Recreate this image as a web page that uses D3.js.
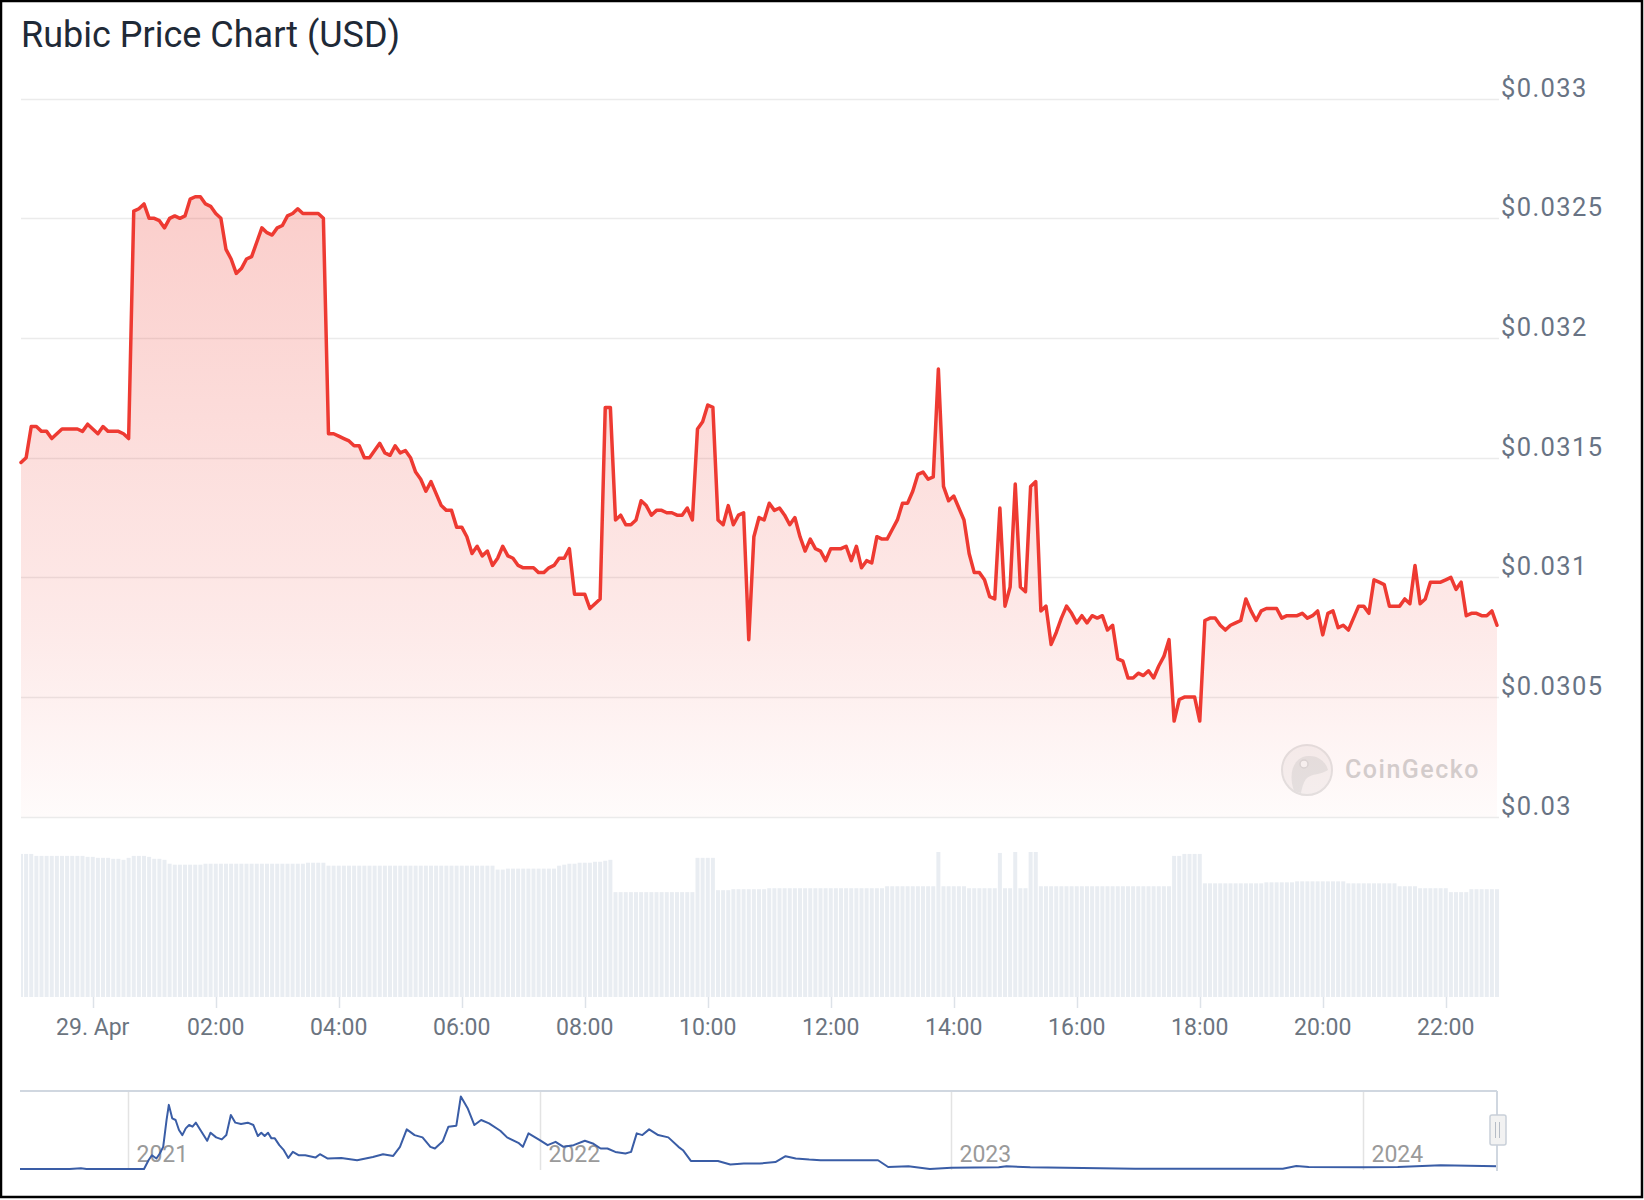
<!DOCTYPE html>
<html><head><meta charset="utf-8">
<script src="https://cdn.jsdelivr.net/npm/d3@7"></script>
<style>
html,body{margin:0;padding:0;background:#fff;}
svg{display:block;font-family:Roboto,"Noto Sans",sans-serif;}
</style></head><body>
<svg id="chart" width="1644" height="1200"></svg>
<script>
const chartTitle = "Rubic Price Chart (USD)";
const startTime = "2024-04-28T22:50:00Z";
const stepMinutes = 5;

const prices = [
0.03148,0.03150,0.03163,0.03163,0.03161,0.03161,0.03158,0.03160,0.03162,0.03162,
0.03162,0.03162,0.03161,0.03164,0.03162,0.03160,0.03163,0.03161,0.03161,0.03161,
0.03160,0.03158,0.03253,0.03254,0.03256,0.03250,0.03250,0.03249,0.03246,0.03250,
0.03251,0.03250,0.03251,0.03258,0.03259,0.03259,0.03256,0.03255,0.03252,0.03250,
0.03237,0.03233,0.03227,0.03229,0.03233,0.03234,0.03240,0.03246,0.03244,0.03243,
0.03246,0.03247,0.03251,0.03252,0.03254,0.03252,0.03252,0.03252,0.03252,0.03250,
0.03160,0.03160,0.03159,0.03158,0.03157,0.03155,0.03155,0.03150,0.03150,0.03153,
0.03156,0.03152,0.03151,0.03155,0.03152,0.03153,0.03150,0.03144,0.03141,0.03136,
0.03140,0.03135,0.03130,0.03128,0.03128,0.03121,0.03121,0.03117,0.03110,0.03113,
0.03109,0.03111,0.03105,0.03108,0.03113,0.03109,0.03108,0.03105,0.03104,0.03104,
0.03104,0.03102,0.03102,0.03104,0.03105,0.03108,0.03108,0.03112,0.03093,0.03093,
0.03093,0.03087,0.03089,0.03091,0.03171,0.03171,0.03124,0.03126,0.03122,0.03122,
0.03124,0.03132,0.03130,0.03126,0.03128,0.03128,0.03127,0.03127,0.03126,0.03126,
0.03129,0.03124,0.03162,0.03165,0.03172,0.03171,0.03124,0.03122,0.03130,0.03122,
0.03126,0.03127,0.03074,0.03117,0.03125,0.03124,0.03131,0.03128,0.03129,0.03126,
0.03122,0.03125,0.03117,0.03111,0.03116,0.03112,0.03111,0.03107,0.03112,0.03112,
0.03112,0.03113,0.03107,0.03113,0.03104,0.03107,0.03106,0.03117,0.03116,0.03116,
0.03120,0.03124,0.03131,0.03131,0.03136,0.03143,0.03144,0.03141,0.03142,0.03187,
0.03138,0.03132,0.03134,0.03129,0.03124,0.03110,0.03102,0.03102,0.03099,0.03092,
0.03091,0.03129,0.03088,0.03096,0.03139,0.03096,0.03094,0.03138,0.03140,0.03086,
0.03088,0.03072,0.03077,0.03083,0.03088,0.03085,0.03081,0.03084,0.03081,0.03084,
0.03083,0.03084,0.03078,0.03080,0.03066,0.03065,0.03058,0.03058,0.03060,0.03059,
0.03061,0.03058,0.03063,0.03067,0.03074,0.03040,0.03049,0.03050,0.03050,0.03050,
0.03040,0.03082,0.03083,0.03083,0.03080,0.03078,0.03080,0.03081,0.03082,0.03091,
0.03086,0.03082,0.03086,0.03087,0.03087,0.03087,0.03083,0.03084,0.03084,0.03084,
0.03085,0.03083,0.03084,0.03086,0.03076,0.03085,0.03086,0.03079,0.03080,0.03078,
0.03083,0.03088,0.03088,0.03085,0.03099,0.03098,0.03097,0.03088,0.03088,0.03088,
0.03091,0.03089,0.03105,0.03089,0.03091,0.03098,0.03098,0.03098,0.03099,0.03100,
0.03095,0.03098,0.03084,0.03085,0.03085,0.03084,0.03084,0.03086,0.03080
];

// 24h volume (thousand USD), one bar per price point
const volumes = [
146,146,146,144,144,144,144,144,144,144,
144,144,144,143,143,142,142,142,141,141,
140,142,144,144,144,143,141,141,140,136,
135,135,135,135,135,135,136,136,136,136,
136,136,136,136,136,136,136,136,136,136,
136,136,136,136,136,136,137,137,137,137,
134,134,134,134,134,134,134,134,134,134,
134,134,134,134,134,134,134,134,134,134,
134,134,134,134,134,134,134,134,134,134,
134,134,134,130,130,131,131,131,131,131,
131,131,131,131,131,134,135,136,136,137,
137,137,138,138,139,140,107,107,107,107,
107,107,107,107,107,107,107,107,107,107,
107,107,142,142,142,142,109,109,109,110,
110,110,110,110,110,110,111,111,111,111,
111,111,111,111,111,111,111,111,111,111,
111,111,111,111,111,111,111,111,111,113,
113,113,113,113,113,113,113,113,113,148,
113,113,113,113,113,111,111,111,111,111,
111,147,111,111,148,111,111,148,148,113,
113,113,113,113,113,113,113,113,113,113,
113,113,113,113,113,113,113,113,113,113,
113,113,113,113,113,144,144,146,146,146,
146,116,116,116,116,116,116,116,116,116,
116,116,116,117,117,117,117,117,117,118,
118,118,118,118,118,118,118,118,118,116,
116,116,116,116,116,116,116,116,116,113,
113,113,113,111,111,111,111,111,111,107,
107,107,107,110,110,110,110,110,110
];

const yTickValues = [0.030, 0.0305, 0.031, 0.0315, 0.032, 0.0325, 0.033];
const yTickLabels = ["$0.03", "$0.0305", "$0.031", "$0.0315", "$0.032", "$0.0325", "$0.033"];

const navDates = [
"2020-09-27","2020-11-10","2020-11-20","2020-11-25","2021-01-15","2021-01-19","2021-01-22","2021-01-26","2021-01-29","2021-02-01",
"2021-02-04","2021-02-06","2021-02-09","2021-02-12","2021-02-15","2021-02-18","2021-02-21","2021-02-24","2021-02-27","2021-03-02",
"2021-03-06","2021-03-12","2021-03-15","2021-03-20","2021-03-25","2021-03-29","2021-04-02","2021-04-06","2021-04-11","2021-04-17",
"2021-04-22","2021-04-26","2021-04-29","2021-05-02","2021-05-05","2021-05-08","2021-05-11","2021-05-15","2021-05-19","2021-05-23",
"2021-05-27","2021-06-01","2021-06-07","2021-06-16","2021-06-20","2021-06-27","2021-07-09","2021-07-23","2021-08-06","2021-08-15",
"2021-08-24","2021-08-30","2021-09-05","2021-09-12","2021-09-19","2021-09-26","2021-09-30","2021-10-07","2021-10-12","2021-10-19",
"2021-10-23","2021-10-29","2021-11-04","2021-11-10","2021-11-17","2021-11-27","2021-12-03","2021-12-13","2021-12-17","2021-12-22",
"2022-01-01","2022-01-08","2022-01-15","2022-01-22","2022-01-31","2022-02-10","2022-02-17","2022-02-24","2022-03-02","2022-03-09",
"2022-03-18","2022-03-23","2022-03-28","2022-04-02","2022-04-08","2022-04-16","2022-04-25","2022-05-04","2022-05-08","2022-05-15",
"2022-06-08","2022-06-19","2022-07-01","2022-07-15","2022-07-29","2022-08-07","2022-08-16","2022-08-28","2022-09-07","2022-09-30",
"2022-10-28","2022-11-06","2022-11-24","2022-12-13","2023-01-01","2023-02-12","2023-02-19","2023-03-12","2023-06-13","2023-10-22",
"2023-11-03","2023-11-14","2023-12-31","2024-02-01","2024-03-10","2024-04-29"
];
const navPrices = [
0.005,0.005,0.017,0.005,0.005,0.149,0.232,0.177,0.26,0.37,
0.815,1.062,0.84,0.813,0.647,0.564,0.675,0.73,0.702,0.769,
0.647,0.47,0.603,0.526,0.493,0.564,0.896,0.769,0.747,0.769,
0.73,0.548,0.603,0.548,0.603,0.51,0.51,0.398,0.315,0.188,
0.287,0.232,0.232,0.193,0.249,0.177,0.187,0.149,0.204,0.249,
0.221,0.37,0.658,0.564,0.526,0.37,0.343,0.464,0.702,0.719,
1.2,1.007,0.73,0.813,0.758,0.636,0.526,0.437,0.37,0.592,
0.481,0.398,0.453,0.37,0.398,0.47,0.426,0.343,0.343,0.287,
0.26,0.287,0.592,0.564,0.658,0.564,0.526,0.37,0.315,0.138,
0.138,0.078,0.094,0.094,0.12,0.216,0.177,0.16,0.15,0.149,
0.149,0.038,0.05,0.005,0.027,0.033,0.05,0.033,0.01,0.01,
0.055,0.038,0.033,0.038,0.066,0.05
];
const navYearTicks = ["2021-01-01", "2022-01-01", "2023-01-01", "2024-01-01"];
const navYearLabels = ["2021", "2022", "2023", "2024"];

// ---------- drawing ----------
const svg = d3.select("#chart");
const W = 1644, H = 1200;
const plotL = 21, plotR = 1499, dataR = 1497;
const priceTop = 98.6, priceBottom = 816.8;
const volBottom = 997, volTop = 850;

svg.append("rect").attr("x", 0).attr("y", 0).attr("width", W).attr("height", H).attr("fill", "#fff");

const t0 = new Date(startTime);
const times = prices.map((_, i) => d3.utcMinute.offset(t0, i * stepMinutes));
const data = prices.map((p, i) => ({ t: times[i], p, v: volumes[i] }));

const x = d3.scaleUtc().domain([times[0], times[times.length - 1]]).range([plotL, dataR]);
const y = d3.scaleLinear().domain([0.030, 0.033]).range([priceBottom, priceTop]);
const yv = d3.scaleLinear().domain([0, 150]).range([volBottom, volTop]);

// title
svg.append("text").attr("x", 21).attr("y", 47)
  .attr("font-size", 36).attr("fill", "#1f2a37").text(chartTitle);

// gridlines + y labels
const yg = svg.append("g");
yTickValues.forEach((v, i) => {
  yg.append("line").attr("x1", plotL).attr("x2", plotR)
    .attr("y1", Math.round(y(v)) + 0.5).attr("y2", Math.round(y(v)) + 0.5)
    .attr("stroke", "#ebebeb").attr("stroke-width", 1.5);
  yg.append("text").attr("x", 1501).attr("y", y(v) - 2)
    .attr("font-size", 25.5).attr("fill", "#687384").attr("letter-spacing", 1.4)
    .text(yTickLabels[i]);
});

// defs
const defs = svg.append("defs");
const grad = defs.append("linearGradient").attr("id", "areaGrad")
  .attr("gradientUnits", "userSpaceOnUse").attr("x1", 0).attr("x2", 0)
  .attr("y1", y(d3.max(prices))).attr("y2", priceBottom);
grad.append("stop").attr("offset", 0).attr("stop-color", "#ef4136").attr("stop-opacity", 0.26);
grad.append("stop").attr("offset", 0.7).attr("stop-color", "#ef4136").attr("stop-opacity", 0.11);
grad.append("stop").attr("offset", 1).attr("stop-color", "#ef4136").attr("stop-opacity", 0.02);
defs.append("clipPath").attr("id", "plotClip").append("rect")
  .attr("x", plotL).attr("y", 0).attr("width", plotR - plotL).attr("height", H);

// CoinGecko watermark
const wm = svg.append("g").attr("transform", "translate(1307,770)");
wm.append("circle").attr("r", 25).attr("fill", "#f5f3f3").attr("stroke", "#e3e3e3").attr("stroke-width", 2);
wm.append("path").attr("d", "M -13 21 C -19 4 -14 -13 1 -14 C 11 -15 19 -8 21 0 C 14 5 5 3 -1 9 C -4 13 -5 18 -6 23 Z")
  .attr("fill", "#e4e4e4");
wm.append("circle").attr("cx", -3).attr("cy", -6).attr("r", 4).attr("fill", "#f7f7f7").attr("stroke", "#d8d8d8").attr("stroke-width", 1.5);
svg.append("text").attr("x", 1345).attr("y", 778).attr("font-size", 25).attr("letter-spacing", 1.5)
  .attr("fill", "#d2d2d2").attr("font-weight", 500).text("CoinGecko");

// area + line
const area = d3.area().x(d => x(d.t)).y0(y(0.030)).y1(d => y(d.p));
const line = d3.line().x(d => x(d.t)).y(d => y(d.p));
svg.append("path").datum(data).attr("d", area).attr("fill", "url(#areaGrad)");
svg.append("path").datum(data).attr("d", line).attr("fill", "none")
  .attr("stroke", "#ee3a32").attr("stroke-width", 3.5).attr("stroke-linejoin", "round").attr("stroke-linecap", "round");

// volume bars
svg.append("g").attr("clip-path", "url(#plotClip)").selectAll("rect").data(data).join("rect")
  .attr("x", d => x(d.t) - 2).attr("width", 4)
  .attr("y", d => yv(d.v)).attr("height", d => yv(0) - yv(d.v))
  .attr("fill", "#e9edf2");

// x axis ticks + labels
const xTicks = x.ticks(d3.utcHour.every(2));
const fmtDay = d3.utcFormat("%-d. %b"), fmtHour = d3.utcFormat("%H:%M");
const xg = svg.append("g");
xTicks.forEach(t => {
  const xx = Math.round(x(t)) + 0.5;
  xg.append("line").attr("x1", xx).attr("x2", xx).attr("y1", 997).attr("y2", 1008)
    .attr("stroke", "#dde2e8").attr("stroke-width", 1.5);
  xg.append("text").attr("x", x(t)).attr("y", 1035).attr("text-anchor", "middle")
    .attr("font-size", 23).attr("fill", "#6b7480")
    .text(t.getUTCHours() === 0 ? fmtDay(t) : fmtHour(t));
});

// navigator
const navParsed = navDates.map(s => new Date(s + "T00:00:00Z"));
const nx = d3.scaleUtc().domain([navParsed[0], navParsed[navParsed.length - 1]]).range([20, 1497]);
const ny = d3.scaleLinear().domain(d3.extent(navPrices)).range([1169, 1096.5]);
const ng = svg.append("g");
navYearTicks.forEach((s, i) => {
  const xx = Math.round(nx(new Date(s + "T00:00:00Z"))) + 0.5;
  ng.append("line").attr("x1", xx).attr("x2", xx).attr("y1", 1091).attr("y2", 1170)
    .attr("stroke", "#e3e3e3").attr("stroke-width", 1.5);
  ng.append("text").attr("x", xx + 8).attr("y", 1162).attr("font-size", 23).attr("fill", "#9a9a9a")
    .text(navYearLabels[i]);
});
const navLine = d3.line().x((d, i) => nx(navParsed[i])).y(d => ny(d)).curve(d3.curveLinear);
ng.append("path").datum(navPrices).attr("d", navLine).attr("fill", "none")
  .attr("stroke", "#3a5da6").attr("stroke-width", 2).attr("stroke-linejoin", "round");
ng.append("line").attr("x1", 20).attr("x2", 1497).attr("y1", 1091).attr("y2", 1091)
  .attr("stroke", "#d0d7e0").attr("stroke-width", 2);
ng.append("line").attr("x1", 1497).attr("x2", 1497).attr("y1", 1091).attr("y2", 1171)
  .attr("stroke", "#d0d7e0").attr("stroke-width", 2);
ng.append("rect").attr("x", 1490).attr("y", 1115).attr("width", 16).attr("height", 30).attr("rx", 2)
  .attr("fill", "#f2f2f2").attr("stroke", "#c9d0d9").attr("stroke-width", 1.5);
[1495.5, 1499.5].forEach(xx => ng.append("line").attr("x1", xx).attr("x2", xx).attr("y1", 1122).attr("y2", 1138)
  .attr("stroke", "#b5bcc6").attr("stroke-width", 1));

// outer border
svg.append("rect").attr("x", 1).attr("y", 1).attr("width", 1641).attr("height", 1196)
  .attr("fill", "none").attr("stroke", "#000").attr("stroke-width", 2.5);
</script>
</body></html>
